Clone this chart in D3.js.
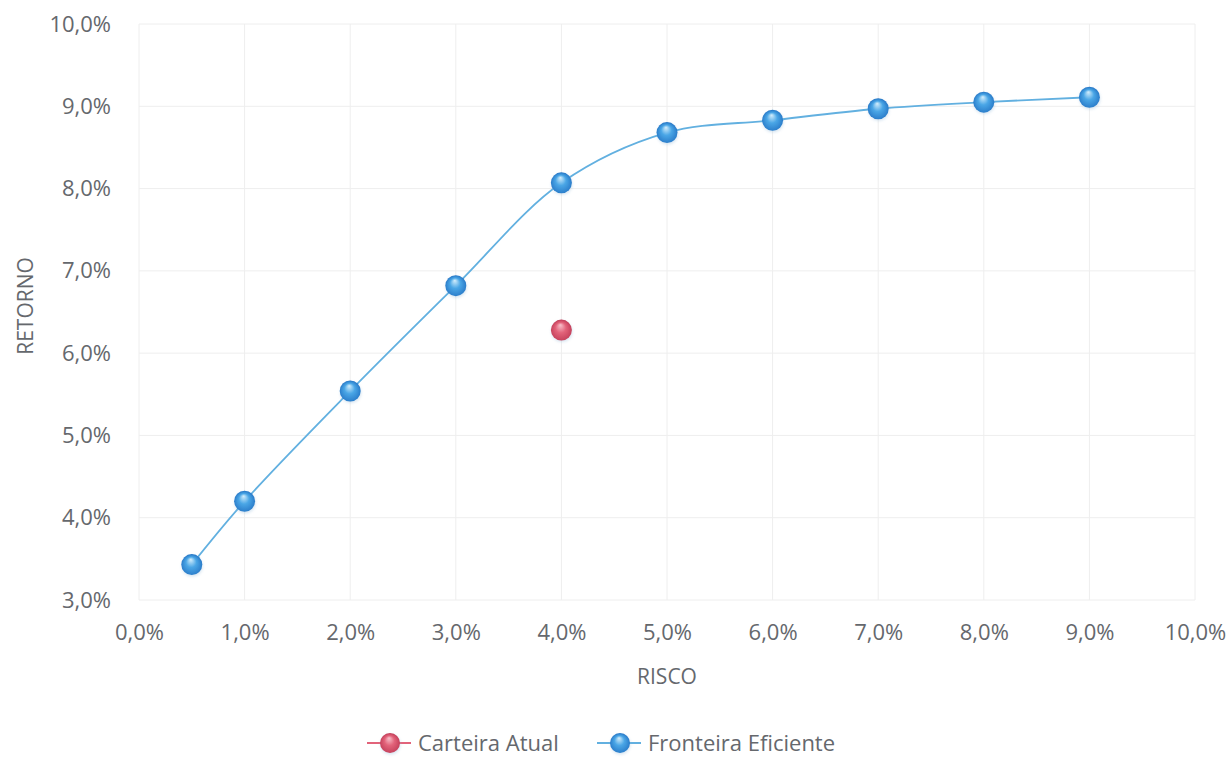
<!DOCTYPE html>
<html>
<head>
<meta charset="utf-8">
<script src="https://cdn.jsdelivr.net/npm/d3@7"></script>
<style>
  html, body { margin: 0; padding: 0; background: #ffffff; }
  svg { display: block; }
  text { font-family: "Open Sans", "Liberation Sans", sans-serif; fill: #65686d; }
</style>
</head>
<body>
<svg id="chart" width="1231" height="759"></svg>
<script>
// Efficient frontier: risk (%) vs. return (%)
const frontierRisk   = [0.5, 1, 2, 3, 4, 5, 6, 7, 8, 9];
const frontierReturn = [3.43, 4.20, 5.54, 6.82, 8.07, 8.68, 8.83, 8.97, 9.05, 9.11];

// Current portfolio
const currentRisk   = [4];
const currentReturn = [6.28];

const xTicks = [0, 1, 2, 3, 4, 5, 6, 7, 8, 9, 10];
const yTicks = [3, 4, 5, 6, 7, 8, 9, 10];

const seriesNames = ["Carteira Atual", "Fronteira Eficiente"];
const xTitle = "RISCO";
const yTitle = "RETORNO";

const fmt = v => v.toFixed(1).replace(".", ",") + "%";

const svg = d3.select("#chart");
const margin = { left: 139, right: 36, top: 24, bottom: 159 };
const W = 1231, H = 759;
const x = d3.scaleLinear().domain([0, 10]).range([margin.left, W - margin.right]);
const y = d3.scaleLinear().domain([3, 10]).range([H - margin.bottom, margin.top]);

// Glossy sphere gradients for markers
const defs = svg.append("defs");
function sphere(id, hi, mid, edge) {
  const g = defs.append("radialGradient").attr("id", id)
    .attr("cx", "50%").attr("cy", "55%").attr("r", "55%")
    .attr("fx", "45%").attr("fy", "25%");
  g.append("stop").attr("offset", "0%").attr("stop-color", hi);
  g.append("stop").attr("offset", "45%").attr("stop-color", mid);
  g.append("stop").attr("offset", "100%").attr("stop-color", edge);
}
sphere("ballBlue", "#d4eefc", "#4aa6e6", "#2474c4");
sphere("ballRed", "#f8c2cc", "#e2637a", "#bf3a55");
const blur = defs.append("filter").attr("id", "shadow").attr("x", "-50%").attr("y", "-50%").attr("width", "200%").attr("height", "200%");
blur.append("feGaussianBlur").attr("stdDeviation", 1.8);

// Gridlines
const grid = svg.append("g");
grid.selectAll("line.v").data(xTicks).join("line")
  .attr("x1", d => x(d)).attr("x2", d => x(d))
  .attr("y1", y(10)).attr("y2", y(3))
  .attr("stroke", "#eeeeee").attr("stroke-width", 1);
grid.selectAll("line.h").data(yTicks).join("line")
  .attr("y1", d => y(d)).attr("y2", d => y(d))
  .attr("x1", x(0)).attr("x2", x(10))
  .attr("stroke", "#eeeeee").attr("stroke-width", 1);

// Axes (labels only)
const xAxis = svg.append("g").attr("transform", `translate(0,${y(3)})`)
  .call(d3.axisBottom(x).tickValues(xTicks).tickFormat(fmt).tickSize(0).tickPadding(24));
const yAxis = svg.append("g").attr("transform", `translate(${x(0)},0)`)
  .call(d3.axisLeft(y).tickValues(yTicks).tickFormat(fmt).tickSize(0).tickPadding(28));
[xAxis, yAxis].forEach(a => {
  a.select(".domain").remove();
  a.selectAll("text").attr("font-size", 22).attr("fill", "#65686d")
    .attr("font-family", "\"Open Sans\", sans-serif");
});

// Axis titles
svg.append("text").attr("x", (x(0) + x(10)) / 2).attr("y", 684)
  .attr("text-anchor", "middle").attr("font-size", 21).text(xTitle);
svg.append("text").attr("transform", `translate(33,${(y(3) + y(10)) / 2 - 6}) rotate(-90)`)
  .attr("text-anchor", "middle").attr("font-size", 21).text(yTitle);

// Frontier curve
const frontier = frontierRisk.map((r, i) => ({ r, v: frontierReturn[i] }));
const line = d3.line().x(d => x(d.r)).y(d => y(d.v)).curve(d3.curveCatmullRom.alpha(0.5));
svg.append("path").datum(frontier).attr("d", line)
  .attr("fill", "none").attr("stroke", "#62b0e0").attr("stroke-width", 1.8);

function ball(sel, cx, cy, r, fill) {
  sel.append("circle").attr("cx", cx + 0.5).attr("cy", cy + 1.5).attr("r", r)
    .attr("fill", "#8ab4d6").attr("opacity", 0.35).attr("filter", "url(#shadow)");
  sel.append("circle").attr("cx", cx).attr("cy", cy).attr("r", r).attr("fill", fill);
}

const marks = svg.append("g");
frontier.forEach(d => ball(marks, x(d.r), y(d.v), 10.5, "url(#ballBlue)"));
currentRisk.forEach((r, i) => ball(marks, x(r), y(currentReturn[i]), 10.5, "url(#ballRed)"));

// Legend
const legend = svg.append("g");
const legendItems = [
  { name: seriesNames[0], x0: 367, stroke: "#e2637a", fill: "url(#ballRed)" },
  { name: seriesNames[1], x0: 597, stroke: "#62b0e0", fill: "url(#ballBlue)" }
];
const ly = 743;
legendItems.forEach(it => {
  legend.append("line").attr("x1", it.x0).attr("x2", it.x0 + 44)
    .attr("y1", ly).attr("y2", ly).attr("stroke", it.stroke).attr("stroke-width", 2);
  ball(legend, it.x0 + 23, ly, 10, it.fill);
  legend.append("text").attr("x", it.x0 + 51).attr("y", ly + 8)
    .attr("font-size", 22).text(it.name);
});
</script>
</body>
</html>
